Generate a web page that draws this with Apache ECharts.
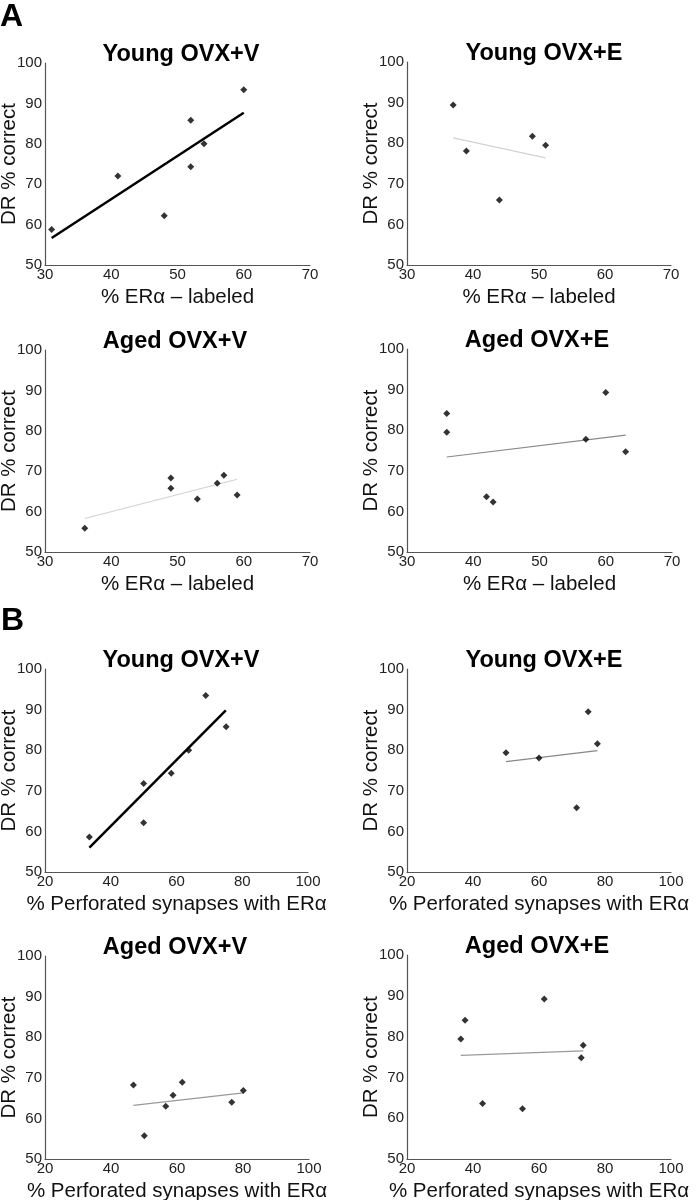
<!DOCTYPE html>
<html>
<head>
<meta charset="utf-8">
<script src="https://cdn.jsdelivr.net/npm/echarts@6/dist/echarts.min.js"></script>
<style>html,body{margin:0;padding:0;background:#fff;}#c{width:696px;height:1200px;}</style>
</head>
<body>
<div id="c"></div>
<script>
// ---- Panel titles and axis texts ----
const panelTitles = ['Young OVX+V','Young OVX+E','Aged OVX+V','Aged OVX+E','Young OVX+V','Young OVX+E','Aged OVX+V','Aged OVX+E'];
const xNameER = '% ERα – labeled';
const xNamePS = '% Perforated synapses with ERα';
const yName = 'DR % correct';
const erTicks = [30, 40, 50, 60, 70];
const psTicks = [20, 40, 60, 80, 100];
const yTicks = [50, 60, 70, 80, 90, 100];

// ---- A: % ERα-labeled ----
const aYoungV_x = [31, 41, 48, 52, 52, 54, 60];
const aYoungV_y = [58.8, 72.0, 62.2, 85.8, 74.3, 80.0, 93.4];
const aYoungV_fitX = [31, 60];
const aYoungV_fitY = [56.7, 87.7];

const aYoungE_x = [37, 39, 44, 49, 51];
const aYoungE_y = [89.4, 78.1, 66.0, 81.7, 79.5];
const aYoungE_fitX = [37, 51];
const aYoungE_fitY = [81.3, 76.4];

const aAgedV_x = [36, 49, 49, 53, 56, 57, 59];
const aAgedV_y = [55.9, 68.3, 65.8, 63.1, 67.0, 69.0, 64.1];
const aAgedV_fitX = [36, 59];
const aAgedV_fitY = [58.3, 68.0];

const aAgedE_x = [36, 36, 42, 43, 57, 60, 63];
const aAgedE_y = [84.1, 79.5, 63.6, 62.3, 77.8, 89.3, 74.7];
const aAgedE_fitX = [36, 63];
const aAgedE_fitY = [73.4, 78.8];

// ---- B: % perforated synapses with ERα ----
const bYoungV_x = [33.5, 50, 50, 58.4, 63.7, 68.9, 75.1];
const bYoungV_y = [58.6, 71.8, 62.1, 74.3, 80.0, 93.5, 85.8];
const bYoungV_fitX = [33.5, 75];
const bYoungV_fitY = [56.0, 89.8];

const bYoungE_x = [50, 60, 71.4, 74.9, 77.7];
const bYoungE_y = [79.4, 78.1, 65.8, 89.5, 81.6];
const bYoungE_fitX = [50, 77.7];
const bYoungE_fitY = [77.2, 79.9];

const bAgedV_x = [46.8, 50.1, 56.6, 58.8, 61.6, 76.6, 80.1];
const bAgedV_y = [68.2, 55.7, 63.0, 65.7, 68.9, 64.0, 66.9];
const bAgedV_fitX = [46.8, 80.1];
const bAgedV_fitY = [63.2, 66.3];

const bAgedE_x = [36.3, 37.6, 42.9, 55, 61.6, 72.8, 73.4];
const bAgedE_y = [79.4, 84.0, 63.6, 62.3, 89.2, 74.8, 77.9];
const bAgedE_fitX = [36.3, 73.4];
const bAgedE_fitY = [75.4, 76.5];

const zip = (a, b) => a.map((v, i) => [v, b[i]]);

const FONT = '"Liberation Sans", Arial, sans-serif';

const panels = [
  {x: aYoungV_x, y: aYoungV_y, fx: aYoungV_fitX, fy: aYoungV_fitY, ticks: erTicks, xname: xNameER, grid: {left: 45, top: 63, width: 265, height: 202}, tc: 181, lineColor: '#000', lineW: 2.5},
  {x: aYoungE_x, y: aYoungE_y, fx: aYoungE_fitX, fy: aYoungE_fitY, ticks: erTicks, xname: xNameER, grid: {left: 407, top: 62, width: 264, height: 203}, tc: 544, lineColor: '#d2d2d2', lineW: 1.2},
  {x: aAgedV_x, y: aAgedV_y, fx: aAgedV_fitX, fy: aAgedV_fitY, ticks: erTicks, xname: xNameER, grid: {left: 45, top: 350, width: 265, height: 202}, tc: 175, lineColor: '#d2d2d2', lineW: 1.2},
  {x: aAgedE_x, y: aAgedE_y, fx: aAgedE_fitX, fy: aAgedE_fitY, ticks: erTicks, xname: xNameER, grid: {left: 407, top: 349, width: 265, height: 203}, tc: 537, lineColor: '#888', lineW: 1.2},
  {x: bYoungV_x, y: bYoungV_y, fx: bYoungV_fitX, fy: bYoungV_fitY, ticks: psTicks, xname: xNamePS, grid: {left: 45, top: 669, width: 263, height: 203}, tc: 181, lineColor: '#000', lineW: 2.5},
  {x: bYoungE_x, y: bYoungE_y, fx: bYoungE_fitX, fy: bYoungE_fitY, ticks: psTicks, xname: xNamePS, grid: {left: 407, top: 669, width: 264, height: 203}, tc: 544, lineColor: '#888', lineW: 1.2},
  {x: bAgedV_x, y: bAgedV_y, fx: bAgedV_fitX, fy: bAgedV_fitY, ticks: psTicks, xname: xNamePS, grid: {left: 45, top: 956, width: 264, height: 203}, tc: 175, lineColor: '#999', lineW: 1.2},
  {x: bAgedE_x, y: bAgedE_y, fx: bAgedE_fitX, fy: bAgedE_fitY, ticks: psTicks, xname: xNamePS, grid: {left: 407, top: 955, width: 264, height: 204}, tc: 537, lineColor: '#999', lineW: 1.2}
];

const option = {
  backgroundColor: '#fff',
  animation: false,
  textStyle: {fontFamily: FONT},
  title: panels.map((p, i) => ({
    text: panelTitles[i],
    left: p.tc, top: p.grid.top - 20,
    textAlign: 'center', padding: 0,
    textStyle: {fontFamily: FONT, fontSize: 23.5, fontWeight: 'bold', color: '#000'}
  })),
  grid: panels.map(p => Object.assign({containLabel: false, outerBoundsMode: 'none'}, p.grid)),
  xAxis: panels.map((p, i) => ({
    gridIndex: i, type: 'value',
    min: p.ticks[0], max: p.ticks[p.ticks.length - 1], interval: p.ticks[1] - p.ticks[0],
    name: p.xname, nameLocation: 'middle', nameGap: 22, nameMoveOverlap: false,
    nameTextStyle: {fontFamily: FONT, fontSize: 20.5, color: '#111'},
    axisLine: {lineStyle: {color: '#555', width: 1.2}},
    axisTick: {show: false},
    splitLine: {show: false},
    axisLabel: {fontFamily: FONT, fontSize: 15, color: '#222', margin: 2}
  })),
  yAxis: panels.map((p, i) => ({
    gridIndex: i, type: 'value',
    min: yTicks[0], max: yTicks[yTicks.length - 1], interval: 10,
    name: yName, nameLocation: 'middle', nameGap: 25, nameMoveOverlap: false,
    nameTextStyle: {fontFamily: FONT, fontSize: 20.5, color: '#111'},
    axisLine: {show: true, lineStyle: {color: '#555', width: 1.2}},
    axisTick: {show: false},
    splitLine: {show: false},
    axisLabel: {fontFamily: FONT, fontSize: 15, color: '#222', margin: 3}
  })),
  series: [].concat(...panels.map((p, i) => [
    {
      type: 'line', xAxisIndex: i, yAxisIndex: i,
      data: zip(p.fx, p.fy), symbol: 'none',
      lineStyle: {color: p.lineColor, width: p.lineW}, z: 1
    },
    {
      type: 'scatter', xAxisIndex: i, yAxisIndex: i,
      data: zip(p.x, p.y), symbol: 'diamond', symbolSize: 7,
      itemStyle: {color: '#000'}, z: 3
    }
  ])),
  graphic: [
    {type: 'text', left: 0, top: 1, style: {text: 'A', font: 'bold 32px ' + FONT, fill: '#000'}},
    {type: 'text', left: 1, top: 605, style: {text: 'B', font: 'bold 32px ' + FONT, fill: '#000'}}
  ]
};

const chart = echarts.init(document.getElementById('c'), null, {renderer: 'canvas'});
chart.setOption(option);
</script>
</body>
</html>
